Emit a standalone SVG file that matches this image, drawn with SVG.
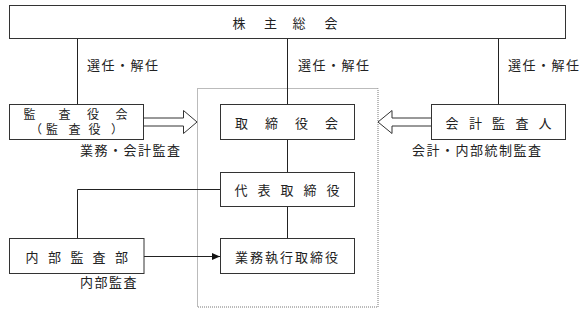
<svg xmlns="http://www.w3.org/2000/svg" width="587" height="322" viewBox="0 0 587 322">
<style>
.box{fill:#fff;stroke:#333;stroke-width:1}
.ln{fill:none;stroke:#222;stroke-width:1}
.hollow{fill:#fff;stroke:#333;stroke-width:1;stroke-linejoin:miter}
text{font-family:"Noto Sans CJK JP","Noto Sans CJK SC",sans-serif;font-size:13px;fill:#222}
.c{text-anchor:middle}
.sm{font-size:12px}
.lbl{letter-spacing:1.5px}
</style>
<defs>
<marker id="ah" markerWidth="8" markerHeight="7" refX="8" refY="3.5" orient="auto" markerUnits="userSpaceOnUse">
<path d="M0,0 L8,3.5 L0,7 Z" fill="#111"/>
</marker>
</defs>
<rect x="0" y="0" width="587" height="322" fill="#fff"/>
<g id="frame">
<rect x="197.5" y="88.5" width="180.5" height="218.5" fill="none" stroke="#777" stroke-width="1" stroke-dasharray="1 1"/>
</g>
<g id="connectors">
<line class="ln" x1="77.5" y1="38" x2="77.5" y2="105"/>
<line class="ln" x1="287.5" y1="38" x2="287.5" y2="105"/>
<line class="ln" x1="498.5" y1="38" x2="498.5" y2="105"/>
<line class="ln" x1="287.5" y1="139" x2="287.5" y2="173"/>
<line class="ln" x1="287.5" y1="206" x2="287.5" y2="239"/>
<polyline class="ln" points="220,189.5 77.5,189.5 77.5,239"/>
<line class="ln" x1="144" y1="256.5" x2="220" y2="256.5" marker-end="url(#ah)"/>
<polygon class="hollow" points="143.5,118 183.5,118 183.5,110.5 197,122 183.5,133.5 183.5,126 143.5,126"/>
<polygon class="hollow" points="431.5,118 392,118 392,110.5 378,122 392,133.5 392,126 431.5,126"/>
<text class="lbl" x="87" y="70">選任・解任</text>
<text class="lbl" x="298" y="70">選任・解任</text>
<text class="lbl" x="508" y="70">選任・解任</text>
<text class="lbl" x="80" y="155">業務・会計監査</text>
<text class="lbl" x="412" y="155">会計・内部統制監査</text>
<text class="lbl" x="80" y="287">内部監査</text>
</g>
<g id="n-kabunushi">
<rect class="box" x="9.5" y="5.5" width="556" height="33"/>
<text class="c" x="239 270.5 299 331" y="27.5">株主総会</text>
</g>
<g id="n-kansayakukai">
<rect class="box" x="9.5" y="104.5" width="134" height="35"/>
<text class="c sm" x="29.5 64.5 93 121.5" y="118.5">監査役会</text>
<text class="c sm" x="36 52 74.5 94.5 117" y="134">（監査役）</text>
</g>
<g id="n-torishimariyakukai">
<rect class="box" x="220.5" y="104.5" width="134" height="35"/>
<text class="c" x="241.5 271.5 301.5 331.5" y="127.5">取締役会</text>
</g>
<g id="n-kaikeikansanin">
<rect class="box" x="431.5" y="104.5" width="134" height="35"/>
<text class="c" x="452 475.5 498.5 522 545" y="127.5">会計監査人</text>
</g>
<g id="n-daihyo">
<rect class="box" x="220.5" y="172.5" width="134" height="34"/>
<text class="c" x="241 264 287 310 333" y="194.5">代表取締役</text>
</g>
<g id="n-naibukansabu">
<rect class="box" x="9.5" y="238.5" width="134.5" height="35"/>
<text class="c" x="32 54.5 77 99 121.5" y="261.5">内部監査部</text>
</g>
<g id="n-gyomushikko">
<rect class="box" x="220.5" y="238.5" width="134" height="35"/>
<text class="c" x="241.5 256.5 271.5 286.5 301.5 316.5 331.5" y="261.5">業務執行取締役</text>
</g>
</svg>
